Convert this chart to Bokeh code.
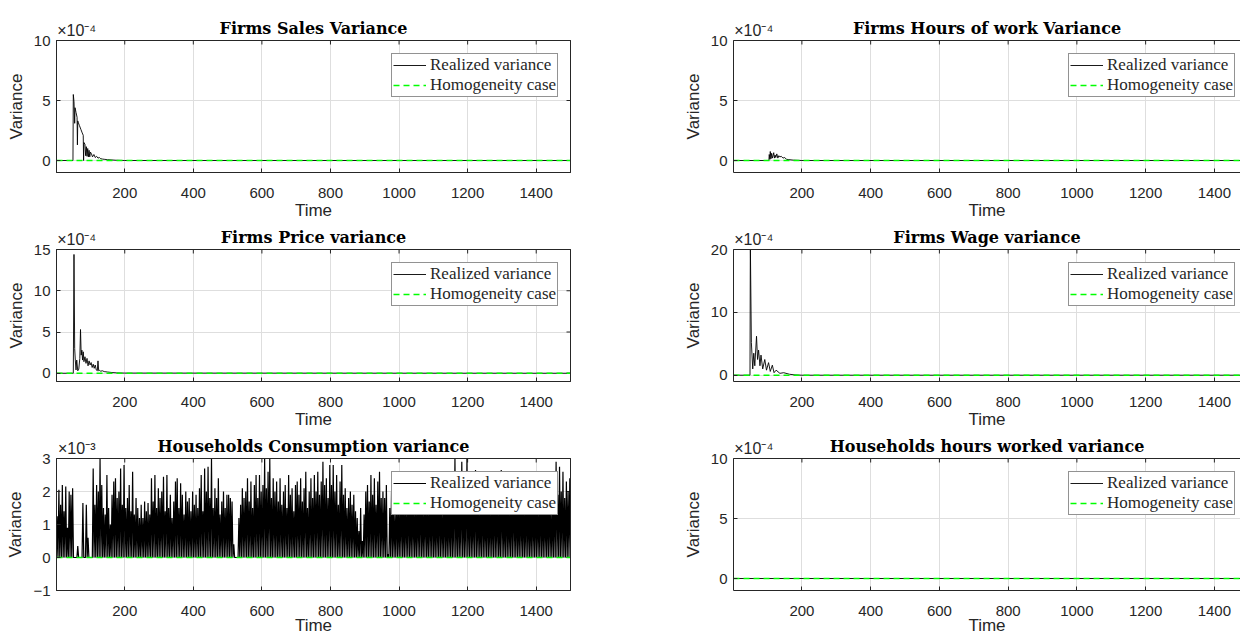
import numpy as np
from bokeh.plotting import figure
from bokeh.layouts import column, row
from bokeh.models import Range1d, FixedTicker, LinearAxis, Legend, LegendItem
from bokeh.embed import file_html
from bokeh.resources import INLINE

# ---------------- data (values in units of the axis multiplier) ----------------
x_ticks = [200, 400, 600, 800, 1000, 1200, 1400]

# Firms sales variance (x1e-4)
sales_t = [1, 49, 50, 52, 54, 55, 58, 61, 62, 63, 64, 68, 72, 76, 79, 80, 81, 84, 86, 88, 90,
           92, 94, 96, 98, 100, 103, 106, 110, 114, 118, 122, 126, 130, 135, 140, 150, 160, 175, 200, 1500]
sales_v = [0, 0, 5.5, 4.9, 3.1, 4.4, 4.0, 3.6, 1.3, 3.3, 3.2, 2.9, 2.6, 2.3, 2.1, 0.0, 1.5, 1.35, 0.4, 1.15, 0.35,
           1.0, 0.3, 0.85, 0.3, 0.7, 0.55, 0.3, 0.5, 0.25, 0.35, 0.2, 0.25, 0.15, 0.12, 0.1, 0.07, 0.05, 0.02, 0.0, 0.0]

# Firms hours of work variance (x1e-4)
hours_t = [1, 104, 105, 107, 108, 110, 112, 114, 116, 118, 120, 122, 124, 127, 130, 133, 136, 140,
           145, 150, 155, 160, 175, 200, 1500]
hours_v = [0, 0, 0.5, 0.1, 0.75, 0.15, 0.6, 0.2, 0.4, 0.65, 0.2, 0.45, 0.25, 0.55, 0.2, 0.4, 0.3, 0.35,
           0.2, 0.25, 0.1, 0.08, 0.03, 0.0, 0.0]

# Firms price variance (x1e-4)
price_t = [1, 50, 52, 54, 56, 58, 60, 63, 66, 69, 71, 73, 75, 77, 79, 81, 84, 87, 90, 93, 96, 99, 102,
           105, 108, 111, 114, 117, 120, 122, 124, 126, 130, 135, 140, 150, 160, 175, 200, 1500]
price_v = [0, 0, 14.4, 3.0, 1.5, 0.4, 1.6, 0.3, 0.5, 1.8, 5.3, 2.2, 2.8, 1.6, 2.6, 1.4, 2.0, 1.2, 1.8, 0.9, 1.5, 1.0, 1.3,
           0.7, 1.1, 0.6, 1.0, 0.4, 0.3, 1.5, 0.3, 0.35, 0.25, 0.3, 0.2, 0.15, 0.1, 0.05, 0.02, 0.0]

# Firms wage variance (x1e-4)
wage_t = [1, 49, 50, 53, 57, 60, 63, 68, 71, 74, 78, 81, 86, 92, 97, 103, 108, 114, 119, 125, 136,
          147, 164, 180, 200, 1500]
wage_v = [0, 0, 21.0, 5.2, 1.0, 3.5, 1.5, 6.2, 2.5, 4.0, 1.5, 3.2, 1.0, 2.5, 0.8, 2.0, 0.6, 1.6, 0.4, 0.8, 0.3,
          0.4, 0.15, 0.05, 0.0, 0.0]

# Households hours worked variance (x1e-4)
hh_hours_t = [1, 1500]
hh_hours_v = [0.0, 0.0]

# Households consumption variance (x1e-3): spike heights every 5 periods, line drops to 0 between spikes
cons_peak_t = list(range(3, 1500, 5))
cons_peak_v = [
    1.25, 2.05, 1.6, 2.2, 1.4, 2.15, 0.9, 2.0, 1.9, 2.1,
    0.0, 0.0, 0.35, 0.0, 0.0, 1.65, 0.0, 1.6, 0.6, 0.0,
    0.0, 2.7, 1.6, 2.2, 2.0, 3.0, 2.2, 1.5, 1.3, 2.5,
    1.5, 1.0, 1.9, 2.3, 2.4, 1.8, 2.0, 2.7, 1.6, 2.8,
    1.5, 1.8, 2.2, 1.4, 2.6, 1.3, 1.8, 1.5, 1.2, 1.6,
    1.2, 1.7, 1.4, 1.65, 1.3, 2.4, 1.7, 2.5, 1.5, 2.1,
    1.8, 2.0, 2.45, 1.4, 2.5, 1.5, 1.9, 1.2, 1.7, 2.3,
    2.4, 1.5, 2.25, 1.9, 1.3, 2.0, 1.7, 1.8, 1.4, 2.0,
    1.6, 1.9, 1.5, 2.1, 2.5, 1.4, 2.7, 2.0, 2.75, 1.8,
    3.0, 1.5, 2.1, 1.8, 2.4, 1.3, 1.7, 2.0, 1.5, 1.9,
    1.9, 1.8, 1.7, 0.4, 0.0, 0.0, 1.2, 1.6, 2.1, 1.8,
    2.0, 2.4, 1.7, 2.3, 1.5, 2.2, 2.5, 1.8, 2.5, 2.0,
    2.2, 3.0, 2.1, 2.6, 3.0, 1.8, 2.4, 2.0, 2.3, 1.7,
    2.4, 1.6, 2.0, 2.2, 1.5, 2.5, 1.9, 2.1, 1.4, 2.2,
    2.3, 1.9, 2.4, 1.7, 2.1, 2.6, 1.5, 2.0, 2.4, 1.8,
    2.5, 2.0, 2.6, 1.9, 2.3, 2.9, 2.2, 2.4, 1.8, 2.8,
    2.2, 2.8, 2.0, 2.5, 1.6, 2.3, 2.8, 1.9, 2.1, 1.5,
    1.8, 2.0, 1.6, 1.9, 1.4, 1.2, 0.8, 1.5, 0.5, 1.3,
    2.0, 2.2, 1.7, 2.5, 1.9, 2.4, 1.6, 2.3, 2.6, 1.8,
    2.0, 1.8, 2.2, 0.1, 1.5, 2.0, 1.7, 1.4, 1.9, 1.6,
    1.8, 2.2, 1.6, 2.0, 1.5, 2.3, 1.7, 2.1, 1.9, 1.6,
    2.0, 1.7, 2.4, 1.6, 1.9, 2.2, 1.5, 2.1, 1.8, 2.3,
    1.7, 2.0, 1.6, 2.3, 1.9, 1.5, 2.2, 1.8, 2.0, 1.6,
    2.1, 1.7, 3.0, 1.9, 2.2, 1.6, 2.9, 2.0, 1.8, 3.0,
    1.9, 2.2, 1.7, 2.1, 2.65, 1.8, 2.0, 1.6, 2.3, 1.9,
    1.8, 2.1, 1.6, 2.0, 1.9, 2.3, 1.7, 2.2, 1.5, 2.65,
    2.0, 1.7, 2.2, 1.9, 1.6, 2.1, 2.6, 1.8, 2.0, 1.7,
    2.2, 1.8, 2.0, 1.6, 2.3, 1.9, 1.7, 2.1, 1.8, 2.0,
    1.9, 1.6, 2.2, 1.8, 2.0, 1.7, 1.9, 2.1, 1.5, 1.8,
    2.2, 2.9, 1.9, 2.75, 2.0, 2.6, 1.8, 2.3, 2.0, 2.4,
]
cons_floor = 0.0
cons_t = [1]
cons_v = [cons_floor]
for tt, vv in zip(cons_peak_t, cons_peak_v):
    cons_t += [tt, tt + 2.5]
    cons_v += [vv, cons_floor]

# Homogeneity case (zero variance)
homog_t = [1, 1500]
homog_v = [0.0, 0.0]

# ---------------- styling ----------------
AX = "#262626"
GRID = "#dedede"
SANS = "Liberation Sans"
SERIF = "Liberation Serif"

FRAME_W = [514, 507]
MB_LEFT = [56, 153]
MB_RIGHT = [10, 0]
XRANGES = [(1, 1500), (1, 1476)]
MB_TOP = [40, 25, 25]
MB_BOTTOM = [52, 52, 49]
TIME_STANDOFF = [0, 0, -3]
EXP_X = 60  # position (in time units) of the centred multiplier label


def style_axis(ax, standoff):
    ax.axis_line_color = AX
    ax.axis_line_width = 1
    ax.major_tick_in = 4
    ax.major_tick_out = 0
    ax.major_tick_line_color = AX
    ax.minor_tick_line_color = None
    ax.major_label_text_font = SANS
    ax.major_label_text_font_size = "15px"
    ax.major_label_text_color = AX
    ax.major_label_standoff = standoff
    ax.axis_label_text_font = SANS
    ax.axis_label_text_font_size = "17px"
    ax.axis_label_text_font_style = "normal"
    ax.axis_label_text_color = AX


def make_panel(col, rw, title, exponent, ylim, yticks, t, v, lw=0.9):
    xr = XRANGES[col]
    p = figure(frame_width=FRAME_W[col], frame_height=132,
               x_range=Range1d(*xr), y_range=Range1d(*ylim),
               min_border_left=MB_LEFT[col], min_border_right=MB_RIGHT[col],
               min_border_top=MB_TOP[rw], min_border_bottom=MB_BOTTOM[rw],
               toolbar_location=None, output_backend="svg")
    p.outline_line_color = AX if col == 0 else None
    p.background_fill_color = "white"
    p.border_fill_color = "white"

    xt = FixedTicker(ticks=x_ticks)
    yt = FixedTicker(ticks=yticks)
    p.xaxis.ticker = xt
    p.yaxis.ticker = yt
    p.xgrid.ticker = xt
    p.ygrid.ticker = yt
    for g in (p.xgrid, p.ygrid):
        g.grid_line_color = GRID
        g.grid_line_width = 1
    style_axis(p.xaxis[0], 15)
    p.xaxis[0].axis_label = "Time"
    p.xaxis[0].axis_label_standoff = TIME_STANDOFF[rw]
    style_axis(p.yaxis[0], 6)
    p.yaxis[0].axis_label = "Variance"
    p.yaxis[0].axis_label_standoff = 5

    # top axis: carries the multiplier label and the panel title
    top = LinearAxis(ticker=FixedTicker(ticks=[EXP_X]))
    style_axis(top, 2)
    top.major_label_text_font_size = "16px"
    top.major_tick_in = 0
    top.major_label_overrides = {EXP_X: "\u00d710" + exponent}
    top.axis_label = title
    top.axis_label_text_font = "DejaVu Serif"
    top.axis_label_text_font_style = "bold"
    top.axis_label_text_font_size = "16px"
    top.axis_label_text_color = "black"
    top.axis_label_standoff = -19
    p.add_layout(top, "above")
    if col == 0:
        rt = LinearAxis(ticker=FixedTicker(ticks=[]))
        style_axis(rt, 0)
        p.add_layout(rt, "right")

    # inward tick marks on the top (and right) edges
    p.scatter(x=x_ticks, y=[ylim[1]] * len(x_ticks), marker="dash", angle=np.pi / 2,
              size=8, line_color=AX, line_width=1)
    if col == 0:
        p.scatter(x=[xr[1]] * len(yticks), y=yticks, marker="dash", size=8,
                  line_color=AX, line_width=1)

    r1 = p.line(t, v, color="black", line_width=lw)
    r2 = p.line(homog_t, homog_v, color="#00ff00", line_width=1.4, line_dash="6 4")

    legend = Legend(items=[LegendItem(label="Realized variance", renderers=[r1]),
                           LegendItem(label="Homogeneity case", renderers=[r2])],
                    location=(335, 75))
    legend.label_text_font = SERIF
    legend.label_text_font_size = "17px"
    legend.label_text_color = AX
    legend.padding = 1
    legend.spacing = 0
    legend.margin = 0
    legend.glyph_width = 33
    legend.glyph_height = 18
    legend.label_height = 18
    legend.label_standoff = 4
    legend.border_line_color = AX
    legend.border_line_width = 1
    legend.background_fill_color = "white"
    legend.background_fill_alpha = 1.0
    p.add_layout(legend)
    return p


p11 = make_panel(0, 0, "Firms Sales Variance", "\u207b\u2074", (-1, 10), [0, 5, 10], sales_t, sales_v)
p12 = make_panel(1, 0, "Firms Hours of work Variance", "\u207b\u2074", (-1, 10), [0, 5, 10], hours_t, hours_v)
p21 = make_panel(0, 1, "Firms Price variance", "\u207b\u2074", (-1, 15), [0, 5, 10, 15], price_t, price_v)
p22 = make_panel(1, 1, "Firms Wage variance", "\u207b\u2074", (-1, 20), [0, 10, 20], wage_t, wage_v)
p31 = make_panel(0, 2, "Households Consumption variance", "\u207b\u00b3", (-1, 3), [-1, 0, 1, 2, 3],
                 cons_t, cons_v, lw=1.2)
p32 = make_panel(1, 2, "Households hours worked variance", "\u207b\u2074", (-1, 10), [0, 5, 10],
                 hh_hours_t, hh_hours_v)

layout = column(row(p11, p12), row(p21, p22), row(p31, p32))
open("out.html", "w").write(file_html(layout, INLINE))
